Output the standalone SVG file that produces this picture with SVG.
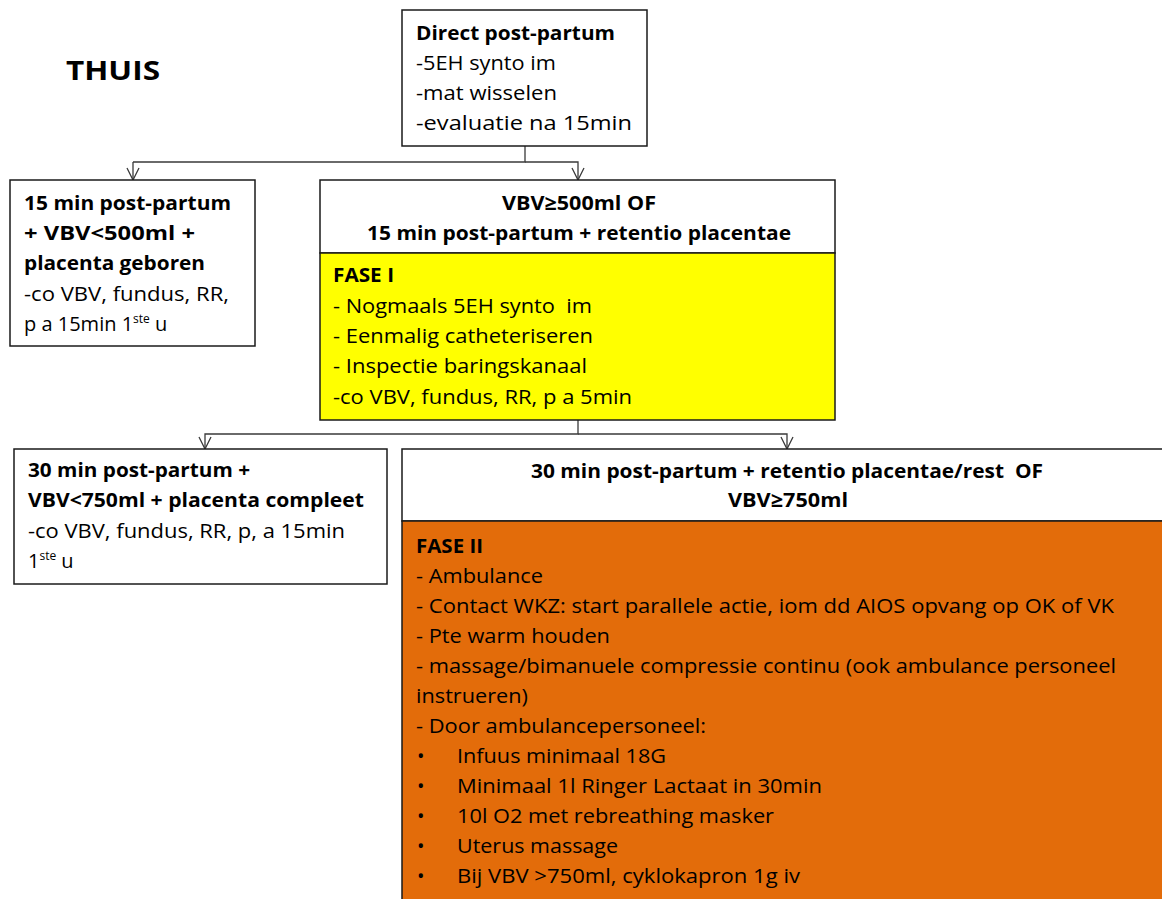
<svg xmlns="http://www.w3.org/2000/svg" width="1162" height="899" viewBox="0 0 1162 899">
<style>
text{font-family:"Open Sans","Noto Sans","Liberation Sans",sans-serif;font-size:20px;fill:#000}
.b{font-weight:bold}
.box{fill:#fff;stroke:#1a1a1a;stroke-width:1.5}
.yel{fill:#ffff00;stroke:#1a1a1a;stroke-width:1.5}
.ora{fill:#e36c0a;stroke:#1a1a1a;stroke-width:1.5}
.con{fill:none;stroke:#3a3a3a;stroke-width:1.3}
.sup{font-size:12px}
</style>
<defs>
<marker id="arr" markerUnits="userSpaceOnUse" markerWidth="16" markerHeight="14" viewBox="0 0 16 14" refX="15" refY="7" orient="auto">
<path d="M3,1 L15,7 L3,13" fill="none" stroke="#3a3a3a" stroke-width="1.3"/>
</marker>
</defs>
<g id="title"><text class="b" x="66" y="80" style="font-size:27px" textLength="94" lengthAdjust="spacingAndGlyphs">THUIS</text></g>
<g id="connectors">
<path class="con" d="M525,146 V162 H133"/>
<path class="con" d="M133,162 V180" marker-end="url(#arr)"/>
<path class="con" d="M525,162 H578 V180" marker-end="url(#arr)"/>
<path class="con" d="M578,420 V434 H205 V449" marker-end="url(#arr)"/>
<path class="con" d="M578,434 H787 V449" marker-end="url(#arr)"/>
</g>
<g id="direct">
<rect class="box" x="402" y="10" width="245" height="136"/>
<text class="b" x="416" y="40" textLength="199" lengthAdjust="spacingAndGlyphs">Direct post-partum</text>
<text x="416" y="70" textLength="140" lengthAdjust="spacingAndGlyphs">-5EH synto im</text>
<text x="416" y="100" textLength="141" lengthAdjust="spacingAndGlyphs">-mat wisselen</text>
<text x="416" y="130" textLength="216" lengthAdjust="spacingAndGlyphs">-evaluatie na 15min</text>
</g>
<g id="pp15">
<rect class="box" x="10" y="180" width="245" height="166"/>
<text class="b" x="24" y="210" textLength="207" lengthAdjust="spacingAndGlyphs">15 min post-partum</text>
<text class="b" x="24" y="240" textLength="171" lengthAdjust="spacingAndGlyphs">+ VBV&lt;500ml +</text>
<text class="b" x="24" y="270" textLength="181" lengthAdjust="spacingAndGlyphs">placenta geboren</text>
<text x="24" y="301" textLength="205" lengthAdjust="spacingAndGlyphs">-co VBV, fundus, RR,</text>
<text x="24" y="331">p a 15min 1<tspan class="sup" dy="-8">ste</tspan><tspan dy="8"> u</tspan></text>
</g>
<g id="fase1">
<rect class="box" x="320" y="180" width="515" height="73"/>
<rect class="yel" x="320" y="253" width="515" height="167"/>
<text class="b" x="579" y="210" text-anchor="middle" textLength="154" lengthAdjust="spacingAndGlyphs">VBV≥500ml OF</text>
<text class="b" x="579" y="240" text-anchor="middle" textLength="424" lengthAdjust="spacingAndGlyphs">15 min post-partum + retentio placentae</text>
<text class="b" x="333" y="282" textLength="61" lengthAdjust="spacingAndGlyphs">FASE I</text>
<text x="333" y="313" textLength="259" lengthAdjust="spacingAndGlyphs" xml:space="preserve">- Nogmaals 5EH synto  im</text>
<text x="333" y="343" textLength="260" lengthAdjust="spacingAndGlyphs">- Eenmalig catheteriseren</text>
<text x="333" y="373" textLength="254" lengthAdjust="spacingAndGlyphs">- Inspectie baringskanaal</text>
<text x="333" y="404" textLength="299" lengthAdjust="spacingAndGlyphs">-co VBV, fundus, RR, p a 5min</text>
</g>
<g id="pp30">
<rect class="box" x="14" y="449" width="373" height="135"/>
<text class="b" x="28" y="477" textLength="222" lengthAdjust="spacingAndGlyphs">30 min post-partum +</text>
<text class="b" x="28" y="507" textLength="336" lengthAdjust="spacingAndGlyphs">VBV&lt;750ml + placenta compleet</text>
<text x="28" y="538" textLength="317" lengthAdjust="spacingAndGlyphs">-co VBV, fundus, RR, p, a 15min</text>
<text x="28" y="568">1<tspan class="sup" dy="-8">ste</tspan><tspan dy="8"> u</tspan></text>
</g>
<g id="fase2">
<rect class="box" x="402" y="449" width="770" height="72"/>
<rect class="ora" x="402" y="521" width="770" height="390"/>
<text class="b" x="787" y="478" text-anchor="middle" textLength="512" lengthAdjust="spacingAndGlyphs" xml:space="preserve">30 min post-partum + retentio placentae/rest  OF</text>
<text class="b" x="788" y="507" text-anchor="middle" textLength="120" lengthAdjust="spacingAndGlyphs">VBV≥750ml</text>
<text class="b" x="416" y="553" textLength="67" lengthAdjust="spacingAndGlyphs">FASE II</text>
<text x="416" y="583" textLength="127" lengthAdjust="spacingAndGlyphs">- Ambulance</text>
<text x="416" y="613" textLength="698" lengthAdjust="spacingAndGlyphs">- Contact WKZ: start parallele actie, iom dd AIOS opvang op OK of VK</text>
<text x="416" y="643" textLength="194" lengthAdjust="spacingAndGlyphs">- Pte warm houden</text>
<text x="416" y="673" textLength="700" lengthAdjust="spacingAndGlyphs">- massage/bimanuele compressie continu (ook ambulance personeel</text>
<text x="416" y="703" textLength="112" lengthAdjust="spacingAndGlyphs">instrueren)</text>
<text x="416" y="733" textLength="290" lengthAdjust="spacingAndGlyphs">- Door ambulancepersoneel:</text>
<text x="417" y="763">•</text><text x="457" y="763" textLength="209" lengthAdjust="spacingAndGlyphs">Infuus minimaal 18G</text>
<text x="417" y="793">•</text><text x="457" y="793" textLength="365" lengthAdjust="spacingAndGlyphs">Minimaal 1l Ringer Lactaat in 30min</text>
<text x="417" y="823">•</text><text x="457" y="823" textLength="317" lengthAdjust="spacingAndGlyphs">10l O2 met rebreathing masker</text>
<text x="417" y="853">•</text><text x="457" y="853" textLength="161" lengthAdjust="spacingAndGlyphs">Uterus massage</text>
<text x="417" y="883">•</text><text x="457" y="883" textLength="343" lengthAdjust="spacingAndGlyphs">Bij VBV &gt;750ml, cyklokapron 1g iv</text>
</g>
</svg>
